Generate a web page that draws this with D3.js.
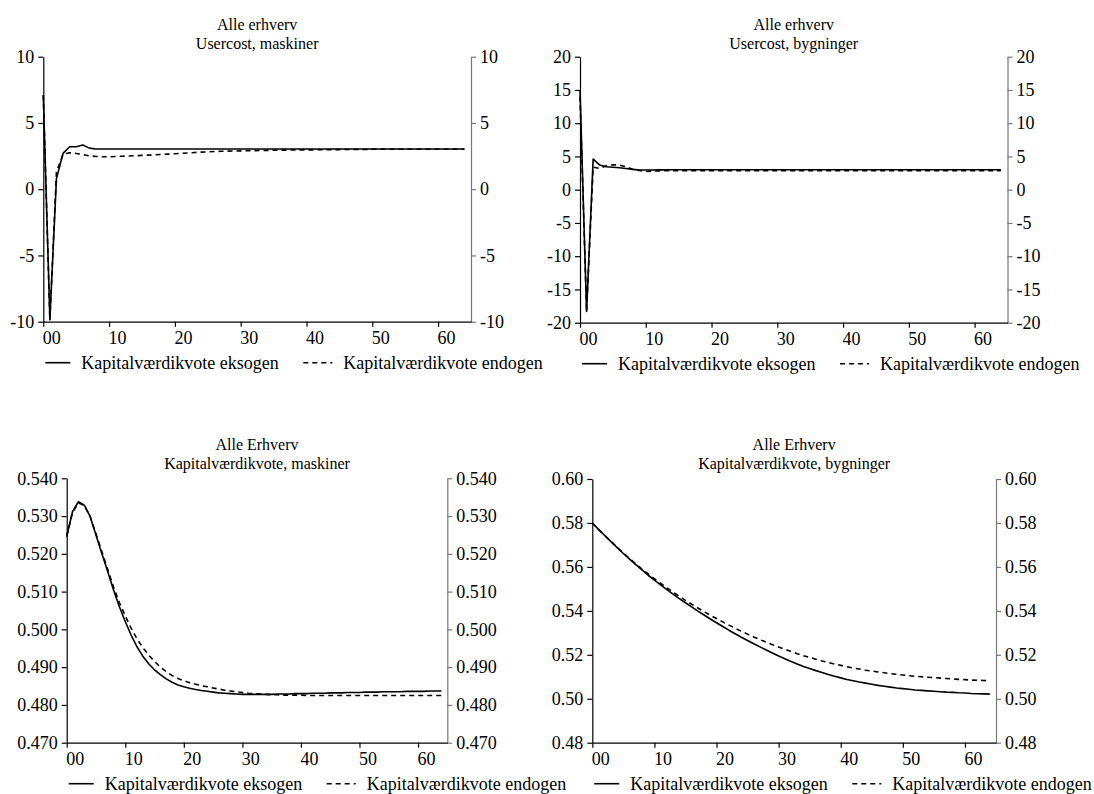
<!DOCTYPE html>
<html><head><meta charset="utf-8">
<script src="https://cdn.jsdelivr.net/npm/d3@7"></script>
<style>
body{margin:0;background:#fff}
svg{display:block}
</style>
</head><body>
<svg id="c" width="1094" height="794"></svg>
<script>
// ---------------- DATA ----------------
const xTickValues = [0, 10, 20, 30, 40, 50, 60];
const xTickLabels = ["00", "10", "20", "30", "40", "50", "60"];
const seriesNames = ["Kapitalværdikvote eksogen", "Kapitalværdikvote endogen"];

const titleLine1 = ["Alle erhverv", "Alle erhverv", "Alle Erhverv", "Alle Erhverv"];
const titleLine2 = ["Usercost, maskiner", "Usercost, bygninger", "Kapitalværdikvote, maskiner", "Kapitalværdikvote, bygninger"];

const yTicksUcMask = [-10, -5, 0, 5, 10];
const yTicksUcByg = [-20, -15, -10, -5, 0, 5, 10, 15, 20];
const yTicksKvMask = [0.470, 0.480, 0.490, 0.500, 0.510, 0.520, 0.530, 0.540];
const yTicksKvByg = [0.48, 0.50, 0.52, 0.54, 0.56, 0.58, 0.60];

const ucMaskEksogen = [7.1, -9.8, 0.8, 2.7, 3.2, 3.2, 3.33, 3.1, 3.03, 3.03,
  3.03, 3.03, 3.03, 3.03, 3.03, 3.03, 3.03, 3.03, 3.03, 3.03,
  3.03, 3.03, 3.03, 3.03, 3.03, 3.03, 3.03, 3.03, 3.03, 3.03,
  3.03, 3.03, 3.03, 3.03, 3.03, 3.03, 3.03, 3.03, 3.03, 3.03,
  3.03, 3.03, 3.03, 3.03, 3.03, 3.03, 3.03, 3.03, 3.03, 3.03,
  3.03, 3.03, 3.03, 3.03, 3.03, 3.03, 3.03, 3.03, 3.03, 3.03,
  3.03, 3.03, 3.03, 3.03, 3.03];
const ucMaskEndogen = [7.1, -9.9, 1.3, 2.65, 2.75, 2.7, 2.62, 2.52, 2.47, 2.45,
  2.45, 2.47, 2.49, 2.51, 2.53, 2.55, 2.57, 2.6, 2.62, 2.65,
  2.68, 2.71, 2.74, 2.77, 2.8, 2.82, 2.84, 2.86, 2.87, 2.88,
  2.89, 2.9, 2.91, 2.92, 2.93, 2.94, 2.95, 2.95, 2.96, 2.96,
  2.97, 2.97, 2.98, 2.98, 2.99, 2.99, 3.0, 3.0, 3.0, 3.0,
  3.01, 3.01, 3.01, 3.01, 3.01, 3.02, 3.02, 3.02, 3.02, 3.02,
  3.02, 3.02, 3.02, 3.02, 3.02];

const ucBygEksogen = [15.0, -18.3, 4.6, 3.7, 3.46, 3.38, 3.3, 3.18, 3.06, 2.96,
  2.96, 2.97, 2.98, 2.98, 2.99, 2.99, 3.0, 3.0, 3.0, 3.0,
  3.0, 3.0, 3.0, 3.0, 3.0, 3.0, 3.0, 3.0, 3.0, 3.0,
  3.0, 3.0, 3.0, 3.0, 3.0, 3.0, 3.0, 3.0, 3.0, 3.0,
  3.0, 3.0, 3.0, 3.0, 3.0, 3.0, 3.0, 3.0, 3.0, 3.0,
  3.0, 3.0, 3.0, 3.0, 3.0, 3.0, 3.0, 3.0, 3.0, 3.0,
  3.0, 3.0, 3.0, 3.0, 3.0];
const ucBygEndogen = [14.0, -18.3, 3.4, 3.2, 3.6, 3.75, 3.7, 3.45, 3.06, 2.88,
  2.76, 2.8, 2.83, 2.85, 2.85, 2.85, 2.85, 2.85, 2.85, 2.85,
  2.85, 2.85, 2.85, 2.85, 2.85, 2.85, 2.85, 2.85, 2.85, 2.85,
  2.85, 2.85, 2.85, 2.85, 2.85, 2.85, 2.85, 2.85, 2.85, 2.85,
  2.85, 2.85, 2.85, 2.85, 2.85, 2.85, 2.85, 2.85, 2.85, 2.85,
  2.85, 2.85, 2.85, 2.85, 2.85, 2.85, 2.85, 2.85, 2.85, 2.85,
  2.85, 2.85, 2.85, 2.85, 2.85];

const kvMaskEksogen = [0.5246, 0.5312, 0.5338, 0.5329, 0.5299, 0.5250, 0.5201, 0.5153, 0.5104, 0.5060,
  0.5021, 0.4985, 0.4954, 0.4929, 0.4909, 0.4893, 0.4880, 0.4869, 0.4860, 0.4853,
  0.4848, 0.4844, 0.4841, 0.4838, 0.4836, 0.4834, 0.4832, 0.4831, 0.4830, 0.4829,
  0.4828, 0.4828, 0.4828, 0.4828, 0.4828, 0.4828, 0.4829, 0.4829, 0.4829, 0.4830,
  0.4830, 0.4830, 0.4831, 0.4831, 0.4831, 0.4832, 0.4832, 0.4832, 0.4833, 0.4833,
  0.4833, 0.4834, 0.4834, 0.4834, 0.4835, 0.4835, 0.4835, 0.4835, 0.4836, 0.4836,
  0.4836, 0.4836, 0.4837, 0.4837, 0.4837];
const kvMaskEndogen = [0.5246, 0.5310, 0.5335, 0.5328, 0.5299, 0.5253, 0.5206, 0.5159, 0.5112, 0.5071,
  0.5036, 0.5003, 0.4975, 0.4952, 0.4932, 0.4915, 0.4900, 0.4888, 0.4878, 0.4870,
  0.4864, 0.4859, 0.4855, 0.4851, 0.4848, 0.4845, 0.4842, 0.4839, 0.4837, 0.4835,
  0.4833, 0.4831, 0.4830, 0.4829, 0.4828, 0.4827, 0.4827, 0.4826, 0.4826, 0.4826,
  0.4826, 0.4825, 0.4825, 0.4825, 0.4825, 0.4825, 0.4825, 0.4825, 0.4825, 0.4825,
  0.4825, 0.4825, 0.4825, 0.4825, 0.4825, 0.4825, 0.4825, 0.4825, 0.4825, 0.4825,
  0.4825, 0.4825, 0.4825, 0.4825, 0.4825];

const kvBygEksogen = [0.5800, 0.5771, 0.5743, 0.5715, 0.5688, 0.5661, 0.5635, 0.5610, 0.5586, 0.5562,
  0.5540, 0.5518, 0.5497, 0.5476, 0.5456, 0.5437, 0.5418, 0.5399, 0.5381, 0.5363,
  0.5346, 0.5329, 0.5312, 0.5296, 0.5280, 0.5265, 0.5250, 0.5236, 0.5222, 0.5208,
  0.5195, 0.5182, 0.5170, 0.5158, 0.5147, 0.5138, 0.5128, 0.5119, 0.5110, 0.5102,
  0.5095, 0.5088, 0.5082, 0.5076, 0.5071, 0.5066, 0.5061, 0.5057, 0.5053, 0.5049,
  0.5046, 0.5043, 0.5040, 0.5038, 0.5036, 0.5034, 0.5032, 0.5030, 0.5029, 0.5027,
  0.5026, 0.5024, 0.5023, 0.5022, 0.5021];
const kvBygEndogen = [0.5800, 0.5771, 0.5743, 0.5716, 0.5689, 0.5663, 0.5638, 0.5614, 0.5590, 0.5568,
  0.5546, 0.5525, 0.5505, 0.5485, 0.5466, 0.5448, 0.5430, 0.5413, 0.5396, 0.5380,
  0.5365, 0.5350, 0.5335, 0.5321, 0.5307, 0.5294, 0.5281, 0.5269, 0.5257, 0.5246,
  0.5235, 0.5225, 0.5215, 0.5205, 0.5196, 0.5188, 0.5180, 0.5172, 0.5165, 0.5158,
  0.5152, 0.5146, 0.5140, 0.5135, 0.5130, 0.5126, 0.5122, 0.5118, 0.5114, 0.5111,
  0.5108, 0.5105, 0.5102, 0.5100, 0.5098, 0.5096, 0.5094, 0.5092, 0.5090, 0.5088,
  0.5087, 0.5085, 0.5084, 0.5083, 0.5082];

// ---------------- LAYOUT ----------------
const hy = f => (d => f(d).replace("\u2212", "-"));
const panels = [
  {x0: 43.3, x1: 471, yTop: 56.7, yBot: 321.7, dom: [-10, 10], ticks: yTicksUcMask, fmt: hy(d3.format("d")),
   t1: titleLine1[0], t2: titleLine2[0], a: ucMaskEksogen, b: ucMaskEndogen, tY: 30},
  {x0: 580, x1: 1007.5, yTop: 56.7, yBot: 322.7, dom: [-20, 20], ticks: yTicksUcByg, fmt: hy(d3.format("d")),
   t1: titleLine1[1], t2: titleLine2[1], a: ucBygEksogen, b: ucBygEndogen, tY: 30},
  {x0: 66.7, x1: 447.3, yTop: 478.3, yBot: 742.7, dom: [0.47, 0.54], ticks: yTicksKvMask, fmt: hy(d3.format(".3f")),
   t1: titleLine1[2], t2: titleLine2[2], a: kvMaskEksogen, b: kvMaskEndogen, tY: 450},
  {x0: 592.3, x1: 996, yTop: 479, yBot: 742.7, dom: [0.48, 0.60], ticks: yTicksKvByg, fmt: hy(d3.format(".2f")),
   t1: titleLine1[3], t2: titleLine2[3], a: kvBygEksogen, b: kvBygEndogen, tY: 450}
];

const FONT = '"Liberation Serif", "Times New Roman", Times, serif';
const svg = d3.select("#c");
const FS = 18, TFS = 16;

panels.forEach(p => {
  const g = svg.append("g");
  const x = d3.scaleLinear().domain([0, 65]).range([p.x0, p.x1]);
  const y = d3.scaleLinear().domain(p.dom).range([p.yBot, p.yTop]);
  const cx = (p.x0 + p.x1) / 2;

  g.append("text").attr("x", cx).attr("y", p.tY).attr("text-anchor", "middle")
    .style("font-family", FONT).style("font-size", TFS + "px").text(p.t1);
  g.append("text").attr("x", cx).attr("y", p.tY + 19).attr("text-anchor", "middle")
    .style("font-family", FONT).style("font-size", TFS + "px").text(p.t2);

  // left axis
  const la = g.append("g").attr("transform", `translate(${p.x0},0)`)
    .call(d3.axisLeft(y).tickValues(p.ticks).tickFormat(p.fmt).tickSize(5).tickSizeOuter(0).tickPadding(4));
  la.attr("font-family", null);
  la.selectAll("path,line").attr("stroke", "#000").attr("stroke-width", 1.2);
  la.selectAll("text").style("font-size", FS + "px").style("font-family", FONT).attr("fill", "#000");

  // right axis
  const ra = g.append("g").attr("transform", `translate(${p.x1},0)`)
    .call(d3.axisRight(y).tickValues(p.ticks).tickFormat(p.fmt).tickSize(5).tickSizeOuter(0).tickPadding(4));
  ra.attr("font-family", null);
  ra.selectAll("path,line").attr("stroke", "#777").attr("stroke-width", 1.2);
  ra.selectAll("text").style("font-size", FS + "px").style("font-family", FONT).attr("fill", "#000");

  // bottom axis
  const ba = g.append("g").attr("transform", `translate(0,${p.yBot})`)
    .call(d3.axisBottom(x).tickValues(xTickValues).tickFormat((d, i) => xTickLabels[i]).tickSize(5).tickSizeOuter(0));
  ba.attr("font-family", null);
  ba.selectAll("path,line").attr("stroke", "#000").attr("stroke-width", 1.2);
  ba.selectAll("text").style("font-size", FS + "px").style("font-family", FONT).attr("fill", "#000")
    .attr("text-anchor", "start").attr("x", -1).attr("dy", null).attr("y", 22);

  const line = d3.line().x((d, i) => x(i)).y(d => y(d));
  g.append("path").datum(p.a).attr("d", line).attr("fill", "none")
    .attr("stroke", "#000").attr("stroke-width", 1.6).attr("stroke-linejoin", "round");
  g.append("path").datum(p.b).attr("d", line).attr("fill", "none")
    .attr("stroke", "#000").attr("stroke-width", 1.6).attr("stroke-dasharray", "5,4");

  // legend
  const ly = p.yBot + 41;
  const lg = g.append("g");
  lg.append("line").attr("x1", p.x0 + 2).attr("x2", p.x0 + 27).attr("y1", ly).attr("y2", ly)
    .attr("stroke", "#000").attr("stroke-width", 1.6);
  lg.append("text").attr("x", p.x0 + 38).attr("y", ly + 6)
    .style("font-family", FONT).style("font-size", FS + "px").text(seriesNames[0]);
  lg.append("line").attr("x1", p.x0 + 260).attr("x2", p.x0 + 289).attr("y1", ly).attr("y2", ly)
    .attr("stroke", "#000").attr("stroke-width", 1.6).attr("stroke-dasharray", "5,4");
  lg.append("text").attr("x", p.x0 + 300).attr("y", ly + 6)
    .style("font-family", FONT).style("font-size", FS + "px").text(seriesNames[1]);
});
</script>
</body></html>
